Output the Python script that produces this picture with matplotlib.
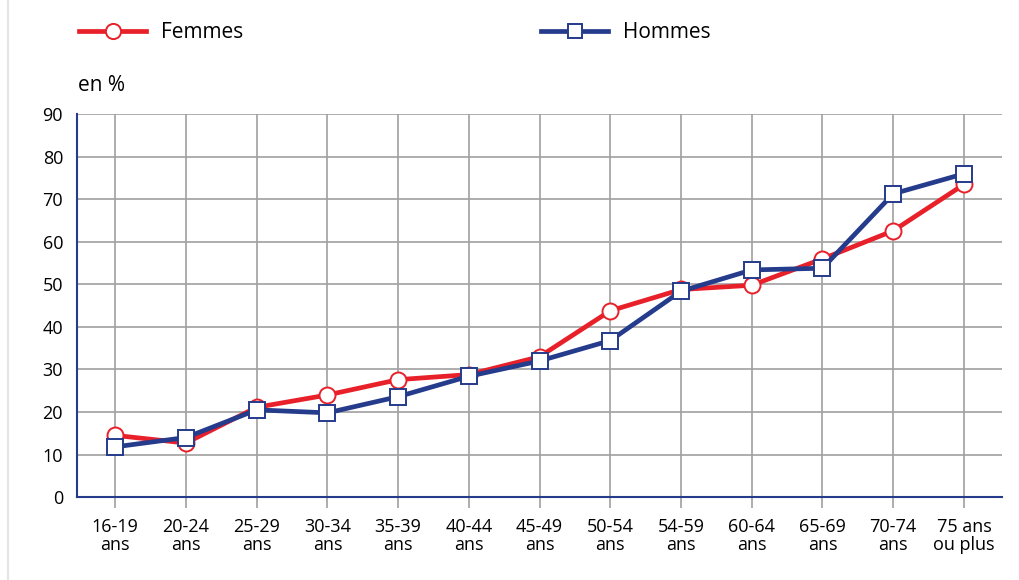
import matplotlib.pyplot as plt
from matplotlib.lines import Line2D

plt.rcParams['font.family'] = ['Open Sans', 'DejaVu Sans']

# tranches d'âge et parts (en %)
ages = ["16-19\nans", "20-24\nans", "25-29\nans", "30-34\nans", "35-39\nans",
        "40-44\nans", "45-49\nans", "50-54\nans", "54-59\nans", "60-64\nans",
        "65-69\nans", "70-74\nans", "75 ans\nou plus"]
femmes = [14.5, 12.7, 21.1, 24.0, 27.6, 28.8, 33.0, 43.8, 48.8, 49.8, 56.0, 62.6, 73.5]
hommes = [11.8, 14.0, 20.5, 19.8, 23.6, 28.4, 32.0, 36.8, 48.4, 53.4, 53.8, 71.3, 76.0]

rouge = "#e8202a"
bleu = "#253b8c"

fig = plt.figure(figsize=(10.2, 5.8), dpi=100)
ax = fig.add_axes([0.0755, 0.143, 0.907, 0.66])

x = range(len(ages))
ax.plot(x, femmes, color=rouge, lw=3.4, marker="o", ms=11.5, mfc="white",
        mec=rouge, mew=1.4, label="Femmes", zorder=3)
ax.plot(x, hommes, color=bleu, lw=3.4, marker="s", ms=11, mfc="white",
        mec=bleu, mew=1.4, label="Hommes", zorder=4)

ax.set_xlim(-0.54, 12.54)
ax.set_ylim(0, 90)
ax.set_yticks(range(0, 91, 10))
ax.set_xticks(list(x))
ax.set_xticklabels(ages, fontsize=13, linespacing=0.98)
ax.tick_params(axis="y", length=0, pad=10, labelsize=13)
ax.tick_params(axis="x", length=8, width=1.2, color="#a0a0a0", pad=7)

ax.grid(True, color="#a0a0a0", lw=1.2)
ax.set_axisbelow(True)
for s in ["top", "right"]:
    ax.spines[s].set_visible(False)
for s in ["left", "bottom"]:
    ax.spines[s].set_color(bleu)
    ax.spines[s].set_linewidth(1.5)
    ax.spines[s].set_zorder(5)

fig.text(0.0765, 0.852, "en %", fontsize=15, va="center")

fig.legend(loc="center left", bbox_to_anchor=(0.0595, 0.944), ncol=2,
           frameon=False, fontsize=15, handlelength=3.2, handletextpad=0.72,
           columnspacing=14.3, markerscale=0.95)

# trait de bord de page à gauche
fig.add_artist(Line2D([0.008, 0.008], [0, 1], color="#e4e4e4", lw=1.5))

fig.savefig("out.png", dpi=100, facecolor="white")
